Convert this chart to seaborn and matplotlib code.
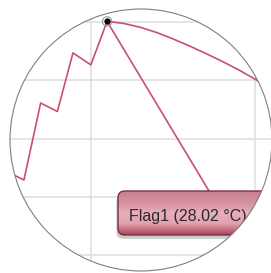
import numpy as np
import matplotlib
matplotlib.use("Agg")
import matplotlib.pyplot as plt
import seaborn as sns
from matplotlib.patches import Ellipse, FancyBboxPatch, PathPatch
from matplotlib.path import Path

# temperature trace (time in min, temperature in °C)
time = [4.8, 5.3, 5.91, 6.93, 7.95, 8.9, 9.99, 10.98, 12.0, 13.0, 14.0, 15.0,
        16.0, 17.0, 18.0, 19.0, 20.0, 21.0, 22.0]
temp = [22.85, 22.75, 22.58, 25.22, 24.93, 26.94, 26.53, 28.02, 27.95, 27.82,
        27.64, 27.42, 27.18, 26.92, 26.65, 26.36, 26.04, 25.7, 25.35]
flag_label = "Flag1 (28.02 °C)"
x_grid = [0, 10, 20, 30]
y_grid = [18, 20, 22, 24, 26, 28, 30]

line_color = "#c9506a"

sns.set_style("white")
fig = plt.figure(figsize=(2.71, 2.73), dpi=100)
ax = fig.add_axes([0, 0, 1, 1])

sns.lineplot(x=time, y=temp, color=line_color, lw=1.2, ax=ax, zorder=3)

ax.set_xticks(x_grid)
ax.set_yticks(y_grid)
ax.grid(True, color="#e0e0e0", lw=1.2)
ax.tick_params(length=0, labelbottom=False, labelleft=False)
for s in ax.spines.values():
    s.set_visible(False)
ax.set_axisbelow(True)
ax.set_xlim(4.451, 20.976)
ax.set_ylim(19.389, 28.755)

# peak marker
ipk = int(np.argmax(temp))
ax.scatter([time[ipk]], [temp[ipk]], s=45, facecolor="none", edgecolor="#999999",
           lw=0.8, zorder=5)
ax.scatter([time[ipk]], [temp[ipk]], s=12, color="black", zorder=6)

# leader line to the flag
ax.annotate("", xy=(time[ipk], temp[ipk]), xytext=(209 / 271, 1 - 191 / 273),
            textcoords="axes fraction",
            arrowprops=dict(arrowstyle="-", color=line_color, lw=1.2,
                            shrinkA=0, shrinkB=0), zorder=3)

# flag box with shadow and gradient
bx, by, bw, bh = 118 / 271, 1 - 235 / 273, 180 / 271, 44 / 273
rs = "round,pad=0,rounding_size=0.025"
shadow = FancyBboxPatch((bx - 0.006, by - 0.014), bw, bh, boxstyle=rs,
                        transform=ax.transAxes, fc="#555555", ec="none",
                        alpha=0.3, zorder=6)
ax.add_patch(shadow)
box = FancyBboxPatch((bx, by), bw, bh, boxstyle=rs, transform=ax.transAxes,
                     fc="#dd98a6", ec="none", zorder=7)
ax.add_patch(box)
grad = np.linspace(0, 1, 64).reshape(-1, 1)
cmap = matplotlib.colors.LinearSegmentedColormap.from_list(
    "flag", ["#a9455a", "#e2a0ad", "#e8afbb", "#d48f9e", "#c8808f"])
im = ax.imshow(grad, cmap=cmap, extent=[bx, bx + bw, by + bh, by], aspect="auto",
               transform=ax.transAxes, zorder=7.5)
im.set_clip_path(box)
border = FancyBboxPatch((bx, by), bw, bh, boxstyle=rs, transform=ax.transAxes,
                        fc="none", ec="#7d2f40", lw=1.0, zorder=8)
ax.add_patch(border)

ax.text(129 / 271, 1 - 217 / 273, flag_label, transform=ax.transAxes,
        fontsize=11.5, family=["Liberation Sans", "DejaVu Sans"],
        color="#2a2a2a", va="center", ha="left", zorder=9)

# white mask outside the magnifier lens, then its outline
cx, cy, rx, ry = 141 / 271, 1 - 140 / 273, 131 / 271, 131 / 273
theta = np.linspace(0, 2 * np.pi, 200)
circ = np.column_stack([cx + rx * np.cos(theta), cy - ry * np.sin(theta)])
outer = np.array([[-1, -1], [2, -1], [2, 2], [-1, 2], [-1, -1]])
verts = np.vstack([outer, circ])
codes = ([Path.MOVETO] + [Path.LINETO] * 3 + [Path.CLOSEPOLY]
         + [Path.MOVETO] + [Path.LINETO] * (len(circ) - 2) + [Path.CLOSEPOLY])
mask = PathPatch(Path(verts, codes), transform=ax.transAxes, fc="white",
                 ec="none", zorder=20, clip_on=False)
ax.add_patch(mask)
ax.add_patch(Ellipse((cx, cy), 2 * rx, 2 * ry, transform=ax.transAxes,
                     fc="none", ec="#808080", lw=0.8, zorder=21, clip_on=False))

fig.savefig("out.png", dpi=100, facecolor="white")
